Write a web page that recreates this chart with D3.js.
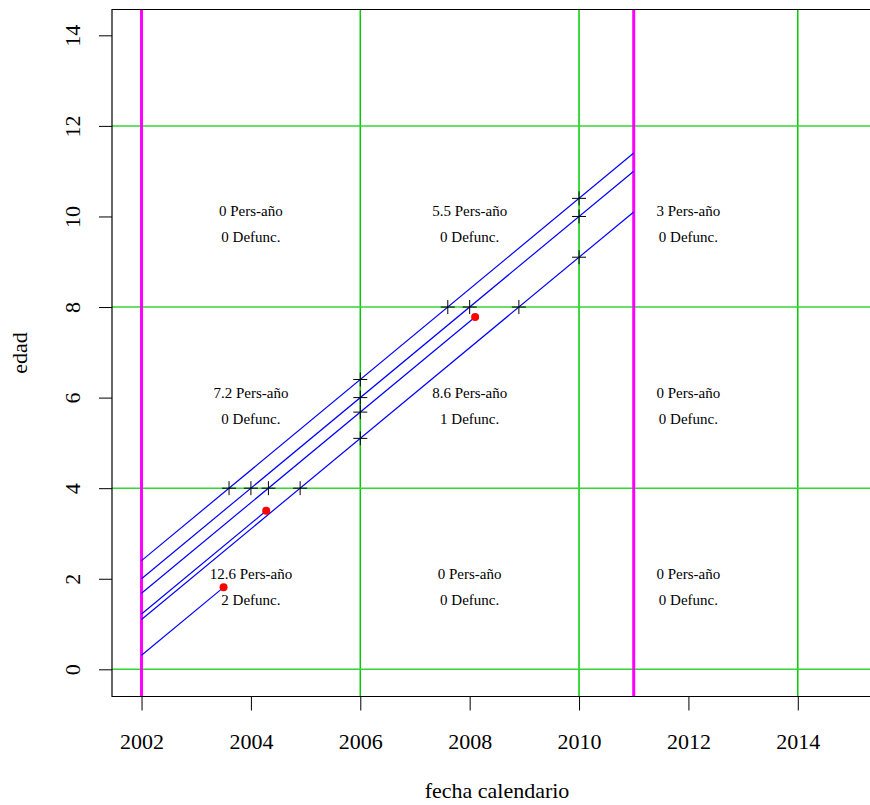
<!DOCTYPE html>
<html>
<head>
<meta charset="utf-8">
<script src="https://cdn.jsdelivr.net/npm/d3@7"></script>
<style>
  body { margin: 0; background: #fff; }
  svg text { font-family: "Liberation Serif", "Times New Roman", serif; fill: #000; }
</style>
</head>
<body>
<svg id="chart" width="870" height="805"></svg>
<script>
// ---- data ----
const entryYear = [2002, 2002, 2002, 2002, 2002, 2002];
const entryAge  = [2.4, 2.0, 1.68, 1.22, 1.1, 0.31];
const exitYear  = [2011, 2011, 2008.1, 2004.28, 2011, 2003.5];
const died      = [0, 0, 1, 1, 0, 1];

const gridYears = [2002, 2006, 2010, 2014];
const gridAges  = [0, 4, 8, 12];
const studyLimits = [2002, 2011];

const xTicks = [2002, 2004, 2006, 2008, 2010, 2012, 2014];
const yTicks = [0, 2, 4, 6, 8, 10, 12, 14];

const cellYears = [2004, 2008, 2012];
const cellAges  = [10, 6, 2];
const persYears = [[0, 5.5, 3], [7.2, 8.6, 0], [12.6, 0, 0]];
const deaths    = [[0, 0, 0], [0, 1, 0], [2, 0, 0]];

const xLabel = "fecha calendario";
const yLabel = "edad";

// ---- layout ----
const svg = d3.select("#chart");
const L = 112, R = 882, T = 9.5, B = 696.5;
const x = d3.scaleLinear().domain([2001.46, 2015.54]).range([L, R]);
const y = d3.scaleLinear().domain([-0.6, 14.57]).range([B, T]);

svg.append("defs").append("clipPath").attr("id", "plotclip")
  .append("rect").attr("x", L).attr("y", T).attr("width", R - L).attr("height", B - T);

const g = svg.append("g").attr("clip-path", "url(#plotclip)");

// grid (green)
g.selectAll("line.vg").data(gridYears).enter().append("line")
  .attr("x1", d => x(d)).attr("x2", d => x(d)).attr("y1", T).attr("y2", B)
  .attr("stroke", "#00cd00").attr("stroke-width", 1.5);
g.selectAll("line.hg").data(gridAges).enter().append("line")
  .attr("x1", L).attr("x2", R).attr("y1", d => y(d)).attr("y2", d => y(d))
  .attr("stroke", "#33d633").attr("stroke-width", 1.5);

// study limits (magenta)
g.selectAll("line.lim").data(studyLimits).enter().append("line")
  .attr("x1", d => x(d)).attr("x2", d => x(d)).attr("y1", T).attr("y2", B)
  .attr("stroke", "#ff00ff").attr("stroke-width", 3);

// lifelines
const lives = entryYear.map((e, i) => ({
  x0: e, a0: entryAge[i], x1: exitYear[i], a1: entryAge[i] + (exitYear[i] - e), d: died[i]
}));
g.selectAll("line.life").data(lives).enter().append("line")
  .attr("x1", d => x(d.x0)).attr("y1", d => y(d.a0))
  .attr("x2", d => x(d.x1)).attr("y2", d => y(d.a1))
  .attr("stroke", "#0000ff").attr("stroke-width", 1.2);

// crossings of grid lines (computed from the lifelines)
const crosses = [];
lives.forEach(l => {
  gridYears.forEach(gy => {
    if (gy > l.x0 && gy < l.x1) crosses.push({ t: gy, a: l.a0 + (gy - l.x0) });
  });
  gridAges.forEach(ga => {
    if (ga > l.a0 && ga < l.a1) crosses.push({ t: l.x0 + (ga - l.a0), a: ga });
  });
});
const cs = 7;
const cg = g.selectAll("g.cross").data(crosses).enter().append("g")
  .attr("transform", d => `translate(${x(d.t)},${y(d.a)})`);
cg.append("line").attr("x1", -cs).attr("x2", cs).attr("y1", 0).attr("y2", 0)
  .attr("stroke", "#000").attr("stroke-width", 1);
cg.append("line").attr("x1", 0).attr("x2", 0).attr("y1", -cs).attr("y2", cs)
  .attr("stroke", "#000").attr("stroke-width", 1);

// deaths
g.selectAll("circle.death").data(lives.filter(d => d.d === 1)).enter().append("circle")
  .attr("cx", d => x(d.x1)).attr("cy", d => y(d.a1)).attr("r", 4)
  .attr("fill", "#ff0000");

// cell labels
const cells = [];
cellAges.forEach((a, r) => cellYears.forEach((yr, c) => {
  cells.push({ yr, a, p: persYears[r][c], d: deaths[r][c] });
}));
const cl = svg.selectAll("g.cell").data(cells).enter().append("g");
cl.append("text").attr("x", d => x(d.yr)).attr("y", d => y(d.a))
  .attr("text-anchor", "middle").attr("font-size", 15)
  .text(d => `${d.p} Pers-año`);
cl.append("text").attr("x", d => x(d.yr)).attr("y", d => y(d.a) + 26)
  .attr("text-anchor", "middle").attr("font-size", 15)
  .text(d => `${d.d} Defunc.`);

// box
svg.append("path")
  .attr("d", `M${R},${T} L${L},${T} L${L},${B} L${R},${B}`)
  .attr("fill", "none").attr("stroke", "#000").attr("stroke-width", 1.2);

// axes
const xAxis = d3.axisBottom(x).tickValues(xTicks).tickFormat(d3.format("d")).tickSize(14).tickPadding(23);
const xa = svg.append("g").attr("transform", `translate(0,${B})`).call(xAxis);
xa.select(".domain").remove();
xa.selectAll("text").attr("font-size", 22);

const yAxis = d3.axisLeft(y).tickValues(yTicks).tickSize(13).tickPadding(0);
const ya = svg.append("g").attr("transform", `translate(${L},0)`).call(yAxis);
ya.select(".domain").remove();
ya.selectAll("text").remove();
ya.selectAll("g.tick").append("text")
  .attr("transform", "translate(-40,0) rotate(-90)")
  .attr("text-anchor", "middle").attr("dy", "0.35em")
  .attr("font-size", 22)
  .text(d => d);

svg.append("text").attr("x", (L + R) / 2).attr("y", 798)
  .attr("text-anchor", "middle").attr("font-size", 22).text(xLabel);
svg.append("text").attr("transform", `translate(27,${(T + B) / 2}) rotate(-90)`)
  .attr("text-anchor", "middle").attr("font-size", 22).text(yLabel);
</script>
</body>
</html>
